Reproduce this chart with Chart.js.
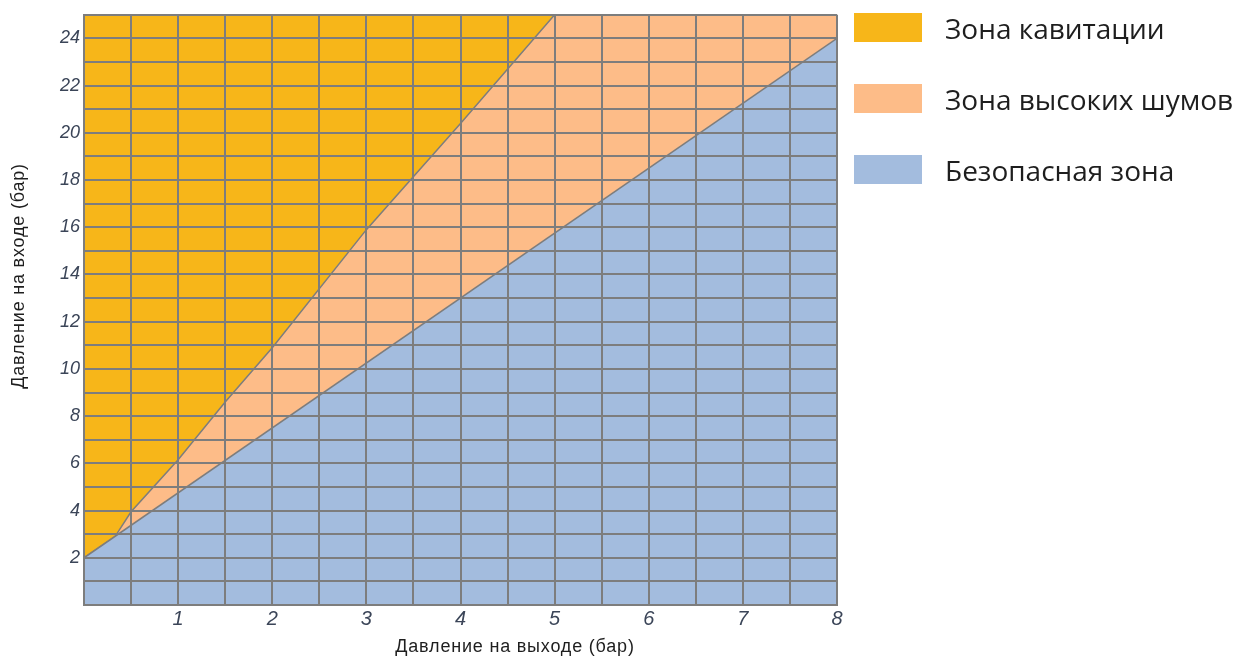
<!DOCTYPE html>
<html>
<head>
<meta charset="utf-8">
<script src="https://cdn.jsdelivr.net/npm/chart.js@4"></script>
<style>
  html, body { margin: 0; padding: 0; background: #fff; }
  #wrap { position: relative; width: 1239px; height: 657px; }
  #zoneChart { position: absolute; left: 0; top: 0; }
  .leg { position: absolute; left: 854px; height: 29px; display: flex; align-items: center;
         font-family: 'Open Sans', sans-serif; font-size: 28px; color: #1e1e1e; white-space: nowrap; }
  .leg i { display: inline-block; width: 68px; height: 29px; margin-right: 23px; }
</style>
</head>
<body>
<div id="wrap">
  <canvas id="zoneChart" width="1239" height="657"></canvas>
  <div id="legend"></div>
</div>
<script>
// boundary between safe zone and high-noise zone
const safeX = [0, 8];
const safeY = [2, 24];
// boundary between high-noise zone and cavitation zone
const noiseX = [0, 0.33, 0.5, 1, 1.5, 2, 3, 4, 5, 8];
const noiseY = [2, 2.9, 3.95, 6.15, 8.6, 10.9, 15.9, 20.4, 25, 25];
// top edge of the cavitation zone
const cavX = [0, 8];
const cavY = [25, 25];

const zoneNames = ['Безопасная зона', 'Зона высоких шумов', 'Зона кавитации'];
const zoneColors = ['#a3bcde', '#fdbc88', '#f7b619'];
const xTickLabels = [1, 2, 3, 4, 5, 6, 7, 8];
const yTickLabels = [2, 4, 6, 8, 10, 12, 14, 16, 18, 20, 22, 24];

const gridColor = '#7d7d7d';
const toPts = (xs, ys) => xs.map((x, i) => ({ x: x, y: ys[i] }));

// legend (top to bottom: cavitation, noise, safe)
const legendEl = document.getElementById('legend');
[2, 1, 0].forEach((k, i) => {
  const d = document.createElement('div');
  d.className = 'leg';
  d.style.top = (13 + i * 71) + 'px';
  d.innerHTML = '<i style="background:' + zoneColors[k] + '"></i>' + zoneNames[k];
  legendEl.appendChild(d);
});

const axisTitles = {
  id: 'axisTitles',
  afterDraw(chart) {
    const c = chart.ctx;
    c.save();
    c.fillStyle = '#1e1e1e';
    c.textAlign = 'center';
    c.textBaseline = 'middle';
    c.letterSpacing = '0.8px';
    c.font = '18px "Liberation Sans", Arial, sans-serif';
    c.fillText('Давление на выходе (бар)', 515, 647);
    c.translate(19, 276);
    c.rotate(-Math.PI / 2);
    c.fillText('Давление на входе (бар)', 0, 0);
    c.restore();
  }
};

new Chart(document.getElementById('zoneChart'), {
  type: 'scatter',
  data: {
    datasets: [
      {
        label: zoneNames[0],
        data: toPts(safeX, safeY),
        showLine: true,
        backgroundColor: zoneColors[0],
        borderColor: gridColor,
        borderWidth: 1.5,
        pointRadius: 0,
        fill: 'origin'
      },
      {
        label: zoneNames[1],
        data: toPts(noiseX, noiseY),
        showLine: true,
        backgroundColor: zoneColors[1],
        borderColor: gridColor,
        borderWidth: 1.5,
        pointRadius: 0,
        fill: '-1'
      },
      {
        label: zoneNames[2],
        data: toPts(cavX, cavY),
        showLine: true,
        backgroundColor: zoneColors[2],
        borderWidth: 0,
        pointRadius: 0,
        fill: '-1'
      }
    ]
  },
  options: {
    responsive: false,
    animation: false,
    events: [],
    layout: { padding: { left: 0, top: 14, right: 402, bottom: 0 } },
    plugins: { legend: { display: false }, tooltip: { enabled: false } },
    scales: {
      x: {
        type: 'linear',
        min: 0, max: 8,
        z: 1,
        grid: { color: gridColor, lineWidth: 2, drawTicks: false, z: 1 },
        border: { color: gridColor, width: 2, z: 1 },
        ticks: {
          stepSize: 0.5, autoSkip: false, maxRotation: 0, padding: 2,
          color: '#3b4558',
          font: { family: '"Liberation Sans", sans-serif', size: 20, style: 'italic' },
          callback: v => xTickLabels.includes(v) ? String(v) : ''
        },
        afterFit: s => { s.height = 52; }
      },
      y: {
        type: 'linear',
        min: 0, max: 25,
        z: 1,
        grid: { color: gridColor, lineWidth: 2, drawTicks: false, z: 1 },
        border: { color: gridColor, width: 2, z: 1 },
        ticks: {
          stepSize: 1, autoSkip: false, padding: 4,
          color: '#3b4558',
          font: { family: '"Liberation Sans", Arial, sans-serif', size: 18, style: 'italic' },
          callback: v => yTickLabels.includes(v) ? String(v) : ''
        },
        afterFit: s => { s.width = 84; }
      }
    }
  },
  plugins: [axisTitles]
});
</script>
</body>
</html>
